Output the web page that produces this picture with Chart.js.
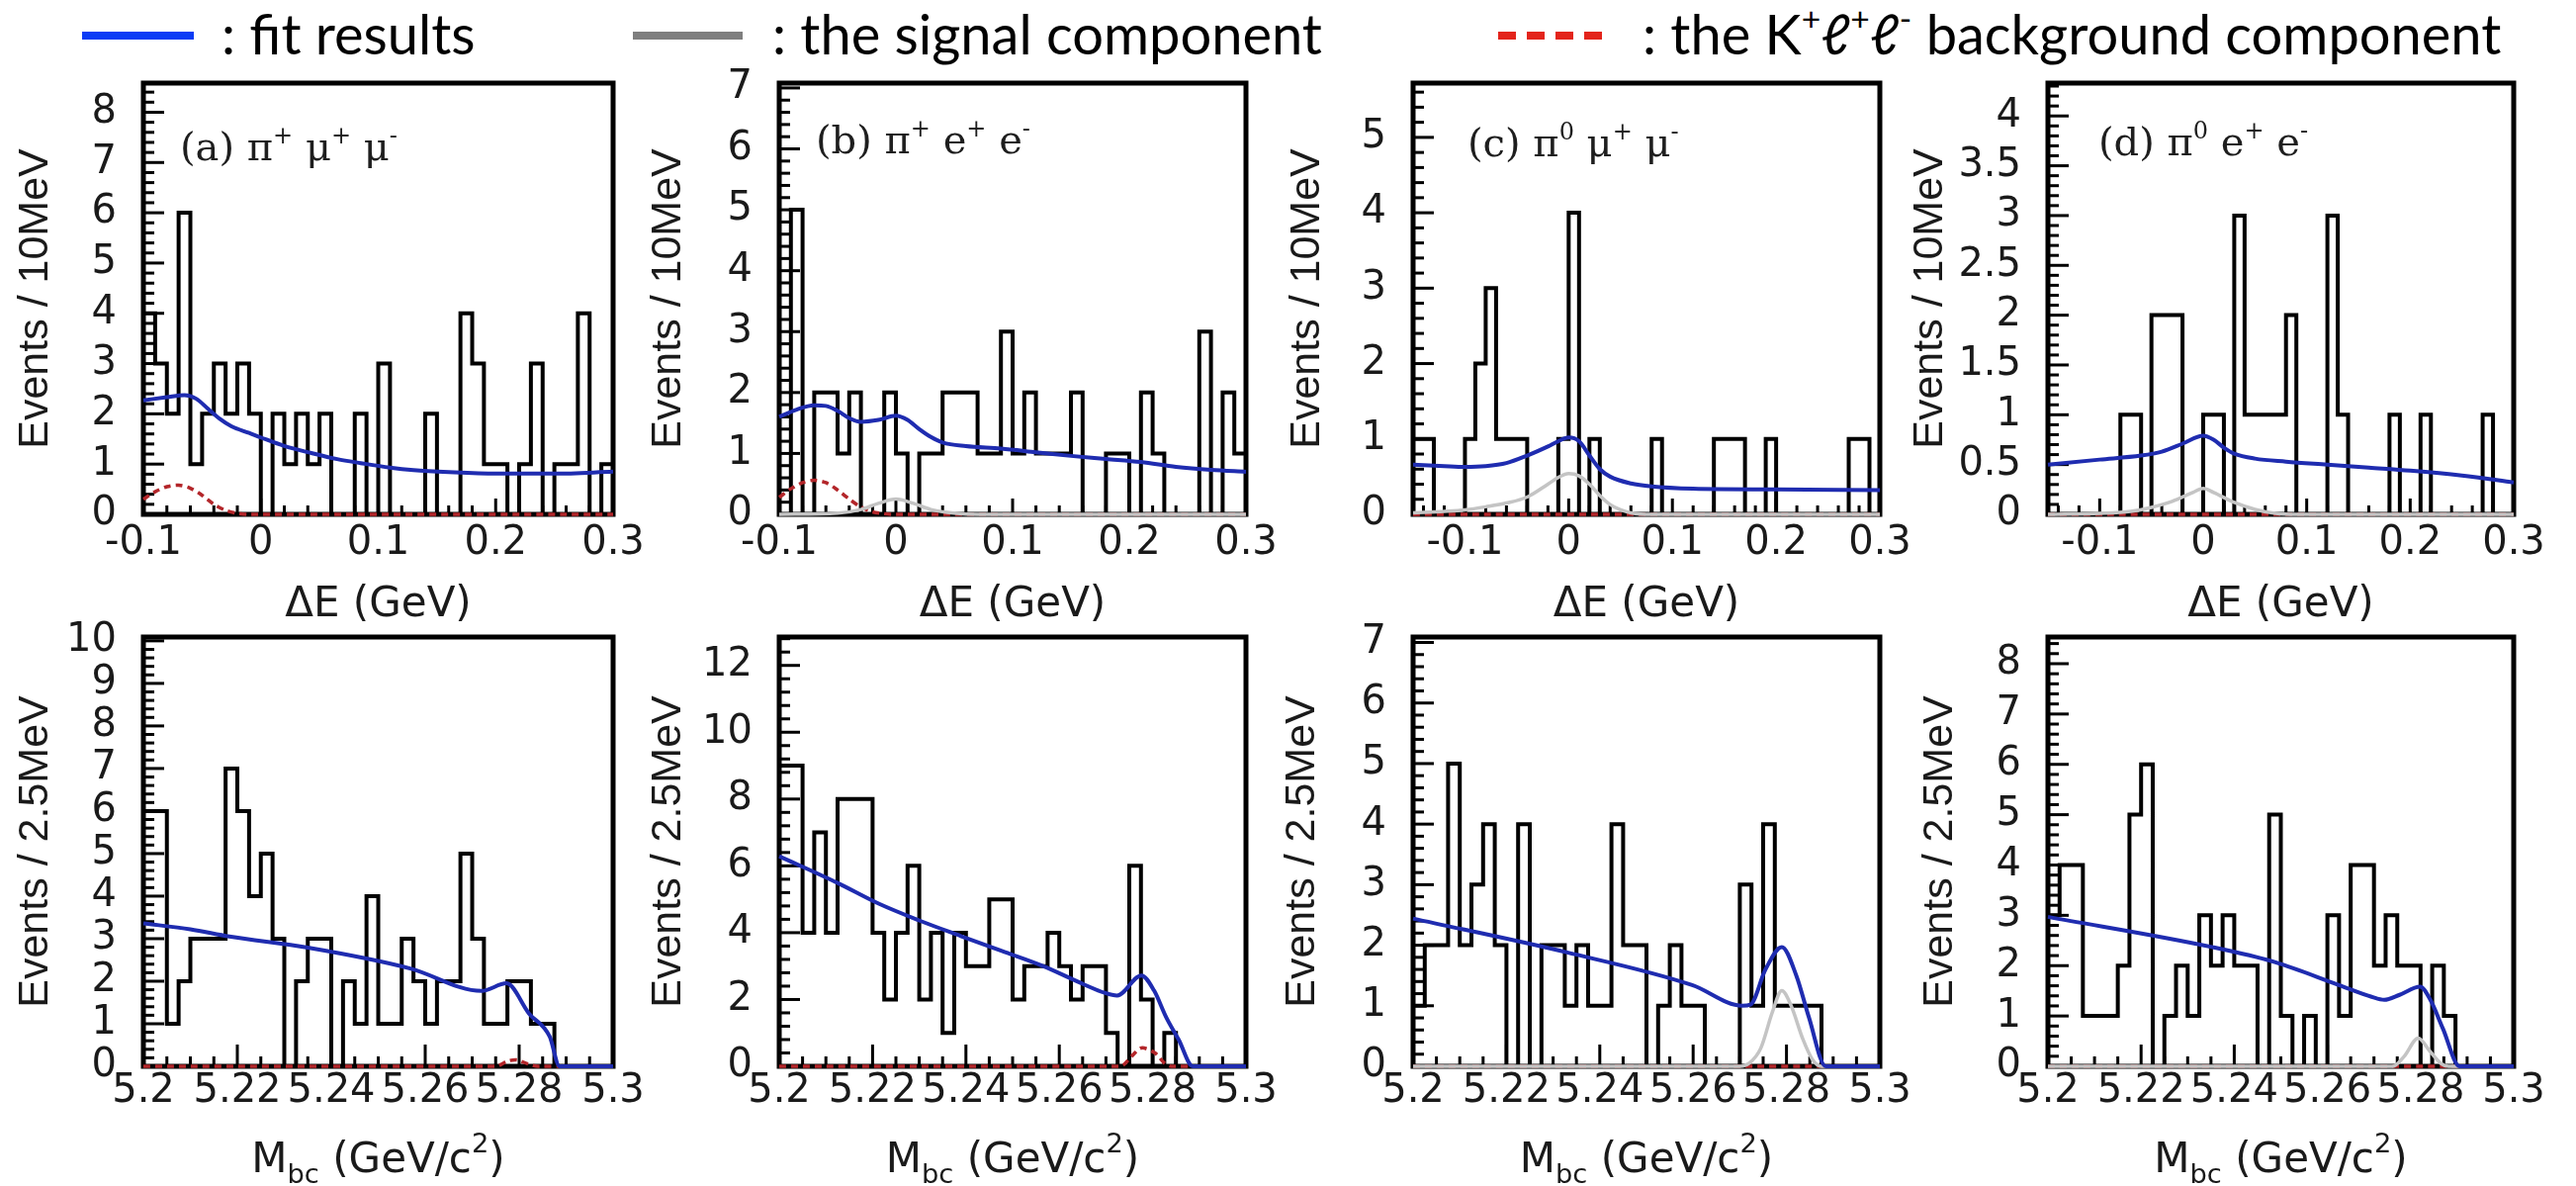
<!DOCTYPE html>
<html>
<head>
<meta charset="utf-8">
<script src="https://cdn.jsdelivr.net/npm/chart.js@4.4.1/dist/chart.umd.min.js"></script>
<style>
  html, body { margin: 0; padding: 0; background: #fff; }
  #page { position: relative; width: 2605px; height: 1199px; overflow: hidden; background: #fff; }
  #page canvas { position: absolute; }
  .leg-line { position: absolute; top: 32px; height: 8px; }
  .leg-text { position: absolute; top: 0; font-family: Lato, 'Open Sans', sans-serif; font-size: 56px; line-height: 1.2; color: #000; white-space: nowrap; }
  .leg-text sup { font-size: 60%; vertical-align: 0.7em; line-height: 0; }
  .plabel { position: absolute; font-family: 'DejaVu Serif', 'Liberation Serif', serif; font-size: 40px; line-height: 40px; color: #1e1e1e; white-space: nowrap; word-spacing: 0px; }
  .plabel sup { font-size: 60%; vertical-align: 0.7em; line-height: 0; }
  .xtitle { position: absolute; font-family: 'DejaVu Sans', 'Liberation Sans', sans-serif; font-size: 42px; line-height: 42px; color: #1a1a1a; white-space: nowrap; transform: translateX(-50%); }
  .xtitle sub { font-size: 65%; vertical-align: -0.4em; line-height: 0; }
  .xtitle sup { font-size: 65%; vertical-align: 0.75em; line-height: 0; }
</style>
</head>
<body>
<div id="page">
  <div class="leg-line" style="left:83px; width:113px; background:#0b3cf5;"></div>
  <div class="leg-text" style="left:224px;">: fit results</div>
  <div class="leg-line" style="left:640px; width:111px; background:#7f7f7f;"></div>
  <div class="leg-text" style="left:781px;">: the signal component</div>
  <div class="leg-line" style="left:1515px; width:105px; background:repeating-linear-gradient(to right, #e3241b 0 18px, transparent 18px 29px);"></div>
  <div class="leg-text" style="left:1661px;">: the K<sup>+</sup>ℓ<sup>+</sup>ℓ<sup>-</sup> background component</div>
</div>
<script>
// binning
const deLoAB = -0.1, deLoCD = -0.15, deHi = 0.3, deBin = 0.01;
const mbcLo = 5.2, mbcHi = 5.3, mbcBin = 0.0025;

// histogram contents (events per bin)
const histA = [4,3,2,6,1,2,3,2,3,2, 0,2,1,2,1,2,0,0,2,0, 3,0,0,0,2,0,0,4,3,1, 1,0,1,3,0,1,1,4,0,1];
const histB = [0,5,0,2,2,1,2,0,0,2, 1,0,1,1,2,2,2,1,1,3, 1,2,1,1,1,2,0,0,1,1, 0,2,1,0,0,0,3,0,2,1];
const histC = [1,1,0,0,0,1,2,3,1,1, 1,0,0,0,1,4,0,1,0,0, 0,0,0,1,0,0,0,0,0,1, 1,1,0,0,1,0,0,0,0,0, 0,0,1,1,0];
const histD = [0,0,0,0,0,0,0,1,1,0, 2,2,2,0,0,1,1,0,3,1, 1,1,1,2,0,0,0,3,1,0, 0,0,0,1,0,0,1,0,0,0, 0,0,1,0,0];
const histE = [6,6,1,2,3,3,3,7,6,4, 5,3,0,2,3,3,0,2,1,4, 1,1,3,2,1,2,2,5,3,1, 1,2,2,1,1,0,0,0,0,0];
const histF = [9,9,4,7,4,8,8,8,4,2, 4,6,2,4,1,4,3,3,5,5, 2,3,3,4,3,2,3,3,1,0, 6,2,0,1,0,0,0,0,0,0];
const histG = [1,2,2,5,2,3,4,2,0,4, 0,2,2,1,2,1,1,4,2,2, 0,1,2,1,1,0,0,0,3,1, 4,1,1,1,1,0,0,0,0,0];
const histH = [3,4,4,1,1,1,2,5,6,0, 1,2,1,3,2,3,2,2,0,5, 1,0,1,0,3,1,4,4,2,3, 2,2,0,2,1,0,0,0,0,0];

// fit results [x, y]
const fitA = [[-0.1,2.27],[-0.08,2.33],[-0.065,2.37],[-0.055,2.3],[-0.045,2.1],[-0.035,1.9],[-0.025,1.75],[-0.01,1.62],[0,1.53],[0.02,1.36],[0.043,1.22],[0.065,1.1],[0.085,1.02],[0.11,0.93],[0.13,0.88],[0.16,0.84],[0.2,0.81],[0.25,0.81],[0.3,0.85]];
const fitB = [[-0.1,1.6],[-0.085,1.72],[-0.07,1.79],[-0.06,1.78],[-0.05,1.7],[-0.04,1.58],[-0.03,1.52],[-0.015,1.55],[0,1.62],[0.01,1.55],[0.02,1.4],[0.03,1.27],[0.04,1.18],[0.06,1.12],[0.09,1.08],[0.12,1.02],[0.15,0.96],[0.18,0.91],[0.21,0.86],[0.24,0.78],[0.27,0.73],[0.3,0.7]];
const fitC = [[-0.15,0.66],[-0.12,0.64],[-0.1,0.63],[-0.08,0.64],[-0.06,0.68],[-0.04,0.78],[-0.02,0.9],[-0.01,0.97],[0,1.02],[0.01,0.97],[0.02,0.78],[0.03,0.6],[0.04,0.5],[0.06,0.41],[0.08,0.37],[0.12,0.34],[0.2,0.33],[0.3,0.32]];
const fitD = [[-0.15,0.5],[-0.1,0.55],[-0.06,0.59],[-0.04,0.63],[-0.02,0.71],[0,0.79],[0.01,0.75],[0.02,0.67],[0.03,0.61],[0.05,0.56],[0.08,0.53],[0.12,0.5],[0.16,0.47],[0.2,0.44],[0.25,0.39],[0.3,0.32]];
const fitE = [[5.2,3.36],[5.21,3.22],[5.2183,3.05],[5.235,2.79],[5.2568,2.3],[5.272,1.77],[5.2773,1.95],[5.2821,1.24],[5.2865,0.7],[5.2886,0],[5.3,0]];
const fitF = [[5.2,6.29],[5.2125,5.49],[5.2213,4.87],[5.2301,4.36],[5.2389,3.9],[5.2477,3.45],[5.2565,3.0],[5.2653,2.45],[5.2697,2.2],[5.2724,2.12],[5.2776,2.72],[5.2803,2.27],[5.2829,1.47],[5.2856,0.79],[5.2886,0],[5.3,0]];
const fitG = [[5.2,2.44],[5.233,1.88],[5.2598,1.34],[5.2705,1.0],[5.2723,1.02],[5.2755,1.6],[5.279,1.97],[5.2821,1.5],[5.2848,0.81],[5.2884,0],[5.3,0]];
const fitH = [[5.2,2.97],[5.2352,2.37],[5.2487,2.07],[5.2623,1.62],[5.2695,1.38],[5.2722,1.32],[5.2755,1.42],[5.2799,1.58],[5.2821,1.32],[5.2848,0.75],[5.2884,0],[5.3,0]];

// signal component [x, y]
const sigB = [[-0.1,0],[-0.05,0.02],[-0.03,0.08],[-0.015,0.18],[0,0.25],[0.015,0.18],[0.03,0.08],[0.05,0.02],[0.07,0],[0.3,0]];
const sigC = [[-0.15,0.02],[-0.12,0.04],[-0.1,0.06],[-0.08,0.1],[-0.06,0.15],[-0.04,0.23],[-0.02,0.4],[-0.01,0.49],[0,0.54],[0.01,0.51],[0.02,0.4],[0.03,0.25],[0.04,0.13],[0.05,0.06],[0.06,0.02],[0.08,0],[0.3,0]];
const sigD = [[-0.15,0],[-0.1,0.01],[-0.07,0.03],[-0.05,0.07],[-0.03,0.13],[-0.01,0.22],[0,0.26],[0.01,0.22],[0.03,0.12],[0.05,0.05],[0.07,0.01],[0.09,0],[0.3,0]];
const sigG = [[5.2,0],[5.27,0],[5.272,0.05],[5.2745,0.3],[5.277,0.9],[5.279,1.25],[5.281,1.0],[5.2835,0.45],[5.2855,0.12],[5.2875,0],[5.3,0]];
const sigH = [[5.2,0],[5.274,0],[5.2765,0.2],[5.2795,0.56],[5.282,0.3],[5.2845,0.05],[5.286,0],[5.3,0]];

// K+ l+ l- background component [x, y]
const bkgA = [[-0.1,0.3],[-0.09,0.45],[-0.08,0.55],[-0.07,0.58],[-0.06,0.52],[-0.05,0.38],[-0.04,0.2],[-0.03,0.08],[-0.02,0.02],[-0.01,0],[0.3,0]];
const bkgB = [[-0.1,0.28],[-0.09,0.42],[-0.08,0.52],[-0.07,0.56],[-0.06,0.52],[-0.05,0.4],[-0.04,0.25],[-0.03,0.12],[-0.02,0.04],[-0.01,0.01],[0,0],[0.3,0]];
const bkgC = [[-0.15,0],[0.3,0]];
const bkgD = [[-0.15,0],[0.3,0]];
const bkgE = [[5.2,0],[5.275,0],[5.2775,0.12],[5.2795,0.15],[5.282,0.05],[5.284,0],[5.3,0]];
const bkgF = [[5.2,0],[5.273,0],[5.2755,0.3],[5.2776,0.55],[5.2805,0.4],[5.2825,0.1],[5.284,0],[5.3,0]];
const bkgG = [[5.2,0],[5.3,0]];
const bkgH = [[5.2,0],[5.3,0]];

// axis ranges and tick labels
const deTicks = [-0.1, 0, 0.1, 0.2, 0.3];
const mbcTicks = [5.2, 5.22, 5.24, 5.26, 5.28, 5.3];
const yMax = { a: 8.58, b: 7.08, c: 5.72, d: 4.33, e: 10.09, f: 12.85, g: 7.09, h: 8.53 };
const yTicksA = [0,1,2,3,4,5,6,7,8];
const yTicksB = [0,1,2,3,4,5,6,7];
const yTicksC = [0,1,2,3,4,5];
const yTicksD = [0,0.5,1,1.5,2,2.5,3,3.5,4];
const yTicksE = [0,1,2,3,4,5,6,7,8,9,10];
const yTicksF = [0,2,4,6,8,10,12];
const yTicksG = [0,1,2,3,4,5,6,7];
const yTicksH = [0,1,2,3,4,5,6,7,8];

const deTitle = 'ΔE (GeV)';
const mbcTitle = 'M<sub>bc</sub> (GeV/c<sup>2</sup>)';

// layout (page pixels)
const colLeft = [145, 788, 1429, 2071];
const colRight = [620, 1260, 1901, 2542];
const rowTop = [84, 644];
const rowBottom = [520, 1078];

const panels = [
  { id: 'a', row: 0, col: 0, hist: histA, lo: deLoAB, fit: fitA, sig: null, bkg: bkgA, yTicks: yTicksA, yMinor: 0.2, titlePad: 10,
    label: '(a) π<sup>+</sup> μ<sup>+</sup> μ<sup>-</sup>', labelX: 182, labelBase: 162 },
  { id: 'b', row: 0, col: 1, hist: histB, lo: deLoAB, fit: fitB, sig: sigB, bkg: bkgB, yTicks: yTicksB, yMinor: 0.2, titlePad: 7,
    label: '(b) π<sup>+</sup> e<sup>+</sup> e<sup>-</sup>', labelX: 825, labelBase: 155 },
  { id: 'c', row: 0, col: 2, hist: histC, lo: deLoCD, fit: fitC, sig: sigC, bkg: bkgC, yTicks: yTicksC, yMinor: 0.2, titlePad: 12,
    label: '(c) π<sup>0</sup> μ<sup>+</sup> μ<sup>-</sup>', labelX: 1484, labelBase: 158 },
  { id: 'd', row: 0, col: 3, hist: histD, lo: deLoCD, fit: fitD, sig: sigD, bkg: bkgD, yTicks: yTicksD, yMinor: 0.1, titlePad: 0,
    label: '(d) π<sup>0</sup> e<sup>+</sup> e<sup>-</sup>', labelX: 2122, labelBase: 157 },
  { id: 'e', row: 1, col: 0, hist: histE, lo: mbcLo, fit: fitE, sig: null, bkg: bkgE, yTicks: yTicksE, yMinor: 0.2, titlePad: 10 },
  { id: 'f', row: 1, col: 1, hist: histF, lo: mbcLo, fit: fitF, sig: null, bkg: bkgF, yTicks: yTicksF, yMinor: 0.4, titlePad: 7 },
  { id: 'g', row: 1, col: 2, hist: histG, lo: mbcLo, fit: fitG, sig: sigG, bkg: bkgG, yTicks: yTicksG, yMinor: 0.2, titlePad: 7 },
  { id: 'h', row: 1, col: 3, hist: histH, lo: mbcLo, fit: fitH, sig: sigH, bkg: bkgH, yTicks: yTicksH, yMinor: 0.2, titlePad: 10 }
];

const tickFont = { family: "'DejaVu Sans', 'Liberation Sans', sans-serif", size: 40 };
const Y_AXIS_W = 145, PAD_TOP = 64, PAD_RIGHT = 60, X_AXIS_H = 110;

// histogram outline from bin contents
function histPoints(counts, lo, bin) {
  const pts = [{ x: lo, y: 0 }];
  counts.forEach((c, i) => {
    pts.push({ x: lo + i * bin, y: c });
    pts.push({ x: lo + (i + 1) * bin, y: c });
  });
  pts.push({ x: lo + counts.length * bin, y: 0 });
  return pts;
}
function toXY(pairs) { return pairs.map(p => ({ x: p[0], y: p[1] })); }
function fmt(v) { return String(Number(v.toFixed(3))); }

// ROOT style frame with inward ticks
const rootFrame = {
  id: 'rootFrame',
  beforeDatasetsDraw(chart, args, o) {
    const { ctx, chartArea: a, scales: { x, y } } = chart;
    ctx.save();
    ctx.strokeStyle = '#000';
    ctx.lineWidth = 3;
    const ky = Math.round(o.yMajor / o.yMinor);
    for (let k = 0; k * o.yMinor <= y.max + 1e-9; k++) {
      const py = y.getPixelForValue(k * o.yMinor);
      const len = k % ky === 0 ? o.yMajLen : o.yMinLen;
      ctx.beginPath(); ctx.moveTo(a.left, py); ctx.lineTo(a.left + len, py); ctx.stroke();
    }
    const kx = Math.round(o.xMajor / o.xMinor);
    for (let k = Math.ceil(x.min / o.xMinor - 1e-6); k * o.xMinor <= x.max + 1e-9; k++) {
      const px = x.getPixelForValue(k * o.xMinor);
      const len = k % kx === 0 ? o.xMajLen : o.xMinLen;
      ctx.beginPath(); ctx.moveTo(px, a.bottom); ctx.lineTo(px, a.bottom - len); ctx.stroke();
    }
    ctx.lineWidth = 5;
    ctx.strokeRect(a.left, a.top, a.right - a.left, a.bottom - a.top);
    ctx.restore();
  }
};

const page = document.getElementById('page');

panels.forEach(p => {
  const isDE = p.row === 0;
  const L = colLeft[p.col], R = colRight[p.col], T = rowTop[p.row], B = rowBottom[p.row];
  const W = R - L, H = B - T;
  const canvas = document.createElement('canvas');
  canvas.width = Y_AXIS_W + W + PAD_RIGHT;
  canvas.height = PAD_TOP + H + X_AXIS_H;
  canvas.style.left = (L - Y_AXIS_W) + 'px';
  canvas.style.top = (T - PAD_TOP) + 'px';
  page.appendChild(canvas);

  const bin = isDE ? deBin : mbcBin;
  const xMin = p.lo, xMax = isDE ? deHi : mbcHi;
  const xTicks = isDE ? deTicks : mbcTicks;
  const yMajor = p.yTicks[1] - p.yTicks[0];

  const datasets = [
    { label: 'fit', data: toXY(p.fit), borderColor: '#1f2cb0', borderWidth: 4, cubicInterpolationMode: 'monotone', order: 0 },
    { label: 'bkg', data: toXY(p.bkg), borderColor: '#b3262a', borderWidth: 3.5, borderDash: [7, 5], tension: 0.3, order: 2 },
    { label: 'data', data: histPoints(p.hist, p.lo, bin), borderColor: '#000', borderWidth: 4, tension: 0, order: 3 }
  ];
  if (p.sig) datasets.push({ label: 'signal', data: toXY(p.sig), borderColor: '#c4c4c4', borderWidth: 3.5, cubicInterpolationMode: 'monotone', order: 1 });
  datasets.forEach(d => { d.pointRadius = 0; d.pointHitRadius = 0; d.fill = false; d.clip = 4; });

  new Chart(canvas, {
    type: 'line',
    data: { datasets },
    options: {
      responsive: false,
      animation: false,
      layout: { padding: { left: 0, top: PAD_TOP, right: PAD_RIGHT, bottom: 0 } },
      plugins: {
        legend: { display: false },
        tooltip: { enabled: false },
        rootFrame: {
          yMajor, yMinor: p.yMinor, yMajLen: 21, yMinLen: 11,
          xMajor: isDE ? 0.1 : 0.02, xMinor: isDE ? 0.02 : 0.005,
          xMajLen: isDE ? 16 : 22, xMinLen: isDE ? 9 : 10
        }
      },
      scales: {
        x: {
          type: 'linear', min: xMin, max: xMax, bounds: 'data',
          grid: { display: false, drawTicks: false }, border: { display: false },
          ticks: { autoSkip: false, maxRotation: 0, minRotation: 0, padding: isDE ? 6 : 2, font: tickFont, color: '#1a1a1a', callback: v => fmt(v) },
          afterBuildTicks: s => { s.ticks = xTicks.map(v => ({ value: v })); },
          afterFit: s => { s.height = X_AXIS_H; }
        },
        y: {
          type: 'linear', min: 0, max: yMax[p.id], bounds: 'data',
          grid: { display: false, drawTicks: false }, border: { display: false },
          ticks: { autoSkip: false, padding: 27, font: tickFont, color: '#1a1a1a', callback: v => fmt(v) },
          afterBuildTicks: s => { s.ticks = p.yTicks.map(v => ({ value: v })); },
          afterFit: s => { s.width = Y_AXIS_W; },
          title: {
            display: true, text: isDE ? 'Events / 10MeV' : 'Events / 2.5MeV', color: '#1a1a1a',
            font: { family: "'Liberation Sans', Arial, sans-serif", size: 43 },
            padding: { top: p.titlePad, bottom: 0 }
          }
        }
      }
    },
    plugins: [rootFrame]
  });

  // x axis title
  const xt = document.createElement('div');
  xt.className = 'xtitle';
  xt.innerHTML = isDE ? deTitle : mbcTitle;
  xt.style.left = ((L + R) / 2) + 'px';
  xt.style.top = (isDE ? 588 : 1150) + 'px';
  page.appendChild(xt);

  // channel label
  if (p.label) {
    const lb = document.createElement('div');
    lb.className = 'plabel';
    lb.innerHTML = p.label;
    lb.style.left = p.labelX + 'px';
    lb.style.top = (p.labelBase - 34) + 'px';
    page.appendChild(lb);
  }
});
</script>
</body>
</html>
